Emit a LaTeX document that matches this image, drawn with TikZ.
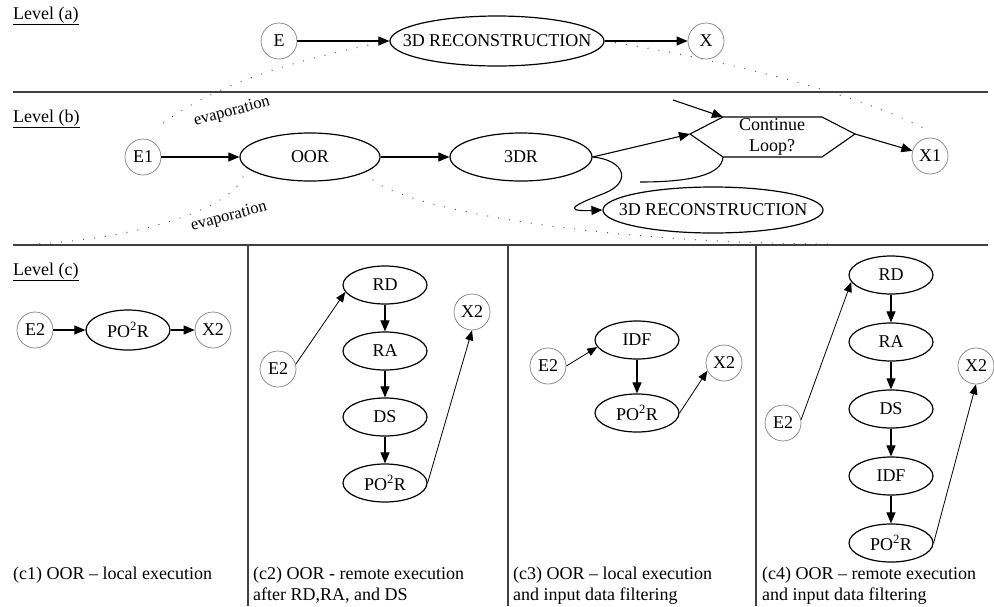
\documentclass[tikz,border=0pt]{standalone}
\usepackage{fontspec}
\setmainfont{Liberation Serif}
\usepackage{tikz}
\usetikzlibrary{shapes.geometric,arrows.meta}

\tikzset{
  every node/.style={font=\fontsize{18}{21}\selectfont},
  io/.style={circle,draw=gray,line width=0.7pt,minimum size=36pt,inner sep=0pt},
  proc/.style={ellipse,draw,line width=1.2pt,inner sep=0pt},
  wideproc/.style={proc,inner xsep=-20pt},
  task/.style={proc,minimum width=84pt,minimum height=38pt},
  arr/.style={line width=1.1pt,-{Triangle[length=11pt,width=9pt]}},
  thinarr/.style={line width=0.8pt,-{Triangle[length=10pt,width=8pt]}},
  evap/.style={line width=1.3pt,black!70,line cap=round,dash pattern=on 0pt off 11pt},
  sep/.style={line width=1.4pt,black!75},
  lvl/.style={anchor=base west,inner sep=0pt},
  caption/.style={anchor=north west,inner sep=0pt,align=left},
  evtxt/.style={rotate=15,font=\fontsize{16.5}{19}\selectfont},
}

\begin{document}
\begin{tikzpicture}[x=1pt,y=1pt]
    \useasboundingbox (0,0) rectangle (994,-606);

    % level (a)
    \node[lvl] (lva) at (13,-19) {\underline{Level (a)}};
    \node[io] (e) at (279,-41) {E};
    \node[wideproc,minimum width=214pt,minimum height=50pt] (reca) at (497,-41) {3D RECONSTRUCTION};
    \node[io] (x) at (706,-41) {X};
    \draw[arr] (e) -- (reca);
    \draw[arr] (reca) -- (x);
    \draw[sep] (13,-92) -- (988,-92);

    % level (b)
    \node[lvl] (lvb) at (13,-122) {\underline{Level (b)}};
    \node[io] (e1) at (143,-157) {E1};
    \node[proc,minimum width=140pt,minimum height=48pt] (oor) at (310,-157) {OOR};
    \node[proc,minimum width=142pt,minimum height=48pt] (tdr) at (521,-157) {3DR};
    \node[align=center] (loop) at (772,-137) {Continue\\Loop?};
    \coordinate (loopW) at (690,-134);
    \coordinate (loopNW) at (723,-117);
    \coordinate (loopNE) at (822,-117);
    \coordinate (loopE) at (855,-134);
    \coordinate (loopSE) at (822,-157);
    \coordinate (loopSW) at (723,-157);
    \draw[line width=1.1pt] (loopW) -- (loopNW) -- (loopNE) -- (loopE) -- (loopSE) -- (loopSW) -- cycle;
    \node[io] (x1) at (930,-156) {X1};
    \node[wideproc,minimum width=220pt,minimum height=46pt] (recb) at (713,-210) {3D RECONSTRUCTION};
    \coordinate (loopin) at (673,-100);
    \coordinate (loopout) at (640,-182);
    \draw[arr] (e1) -- (oor);
    \draw[arr] (oor) -- (tdr);
    \draw[arr] (tdr.east) -- (loopW);
    \draw[arr] (loopin) -- (loopNW);
    \draw[arr] (loopE) -- (x1);
    \draw[line width=1.1pt] (loopSW) .. controls (722,-175) and (690,-182) .. (loopout);
    \draw[arr] (tdr.east) .. controls (625,-160) and (632,-182) .. (605,-193)
        .. controls (585,-201) and (555,-212) .. (recb.west);

    % evaporation
    \coordinate (evapa) at (157,-128);
    \coordinate (evapb) at (923,-128);
    \coordinate (oorsw) at (243,-177);
    \coordinate (oorse) at (373,-180);
    \coordinate (evapc) at (13,-245);
    \coordinate (evapd) at (830,-244);
    \draw[evap] (reca.west) .. controls (300,-58) and (210,-85) .. (evapa);
    \draw[evap] (reca.east) .. controls (700,-55) and (850,-90) .. (evapb);
    \draw[evap] (oorsw) .. controls (230,-210) and (130,-242) .. (evapc);
    \draw[evap] (oorse) .. controls (410,-210) and (600,-243) .. (evapd);
    \node[evtxt] (ev1) at (232,-112) {evaporation};
    \node[evtxt] (ev2) at (229,-217) {evaporation};
    \draw[sep] (13,-245) -- (988,-245);

    % level (c)
    \draw[sep] (248,-245) -- (248,-606);
    \draw[sep] (508,-245) -- (508,-606);
    \draw[sep] (756,-245) -- (756,-606);
    \node[lvl] (lvc) at (13,-275) {\underline{Level (c)}};

    % c1
    \node[io] (e2a) at (35,-330) {E2};
    \node[proc,minimum width=84pt,minimum height=40pt] (poa) at (128,-330) {PO\textsuperscript{2}R};
    \node[io] (x2a) at (213,-330) {X2};
    \draw[arr] (e2a) -- (poa);
    \draw[arr] (poa) -- (x2a);
    \node[caption] (capa) at (13,-567) {(c1) OOR \textendash{} local execution};

    % c2
    \node[task] (rdb) at (385,-285) {RD};
    \node[task] (rab) at (385,-351) {RA};
    \node[task] (dsb) at (385,-417) {DS};
    \node[task] (pob) at (385,-483) {PO\textsuperscript{2}R};
    \node[io] (e2b) at (278,-369) {E2};
    \node[io] (x2b) at (472,-312) {X2};
    \draw[thinarr] (e2b.15) -- (rdb.190);
    \draw[arr] (rdb) -- (rab);
    \draw[arr] (rab) -- (dsb);
    \draw[arr] (dsb) -- (pob);
    \draw[thinarr] (pob.east) -- (x2b.south);
    \node[caption] (capb) at (253,-567) {(c2) OOR - remote execution\\after RD,RA, and DS};

    % c3
    \node[task] (idfc) at (637,-340) {IDF};
    \node[task] (poc) at (637,-413) {PO\textsuperscript{2}R};
    \node[io] (e2c) at (548,-366) {E2};
    \node[io] (x2c) at (724,-363) {X2};
    \draw[thinarr] (e2c.east) -- (idfc.190);
    \draw[arr] (idfc) -- (poc);
    \draw[thinarr] (poc.east) -- (x2c.205);
    \node[caption] (capc) at (513,-567) {(c3) OOR \textendash{} local execution\\and input data filtering};

    % c4
    \node[task] (rdd) at (891,-275) {RD};
    \node[task] (rad) at (891,-342) {RA};
    \node[task] (dsd) at (891,-409) {DS};
    \node[task] (idfd) at (891,-476) {IDF};
    \node[task] (pod) at (891,-543) {PO\textsuperscript{2}R};
    \node[io] (e2d) at (783,-423) {E2};
    \node[io] (x2d) at (976,-366) {X2};
    \draw[thinarr] (e2d.10) -- (rdd.190);
    \draw[arr] (rdd) -- (rad);
    \draw[arr] (rad) -- (dsd);
    \draw[arr] (dsd) -- (idfd);
    \draw[arr] (idfd) -- (pod);
    \draw[thinarr] (pod.east) -- (x2d.south);
    \node[caption] (capd) at (762,-567) {(c4) OOR \textendash{} remote execution\\and input data filtering};
\end{tikzpicture}
\end{document}
